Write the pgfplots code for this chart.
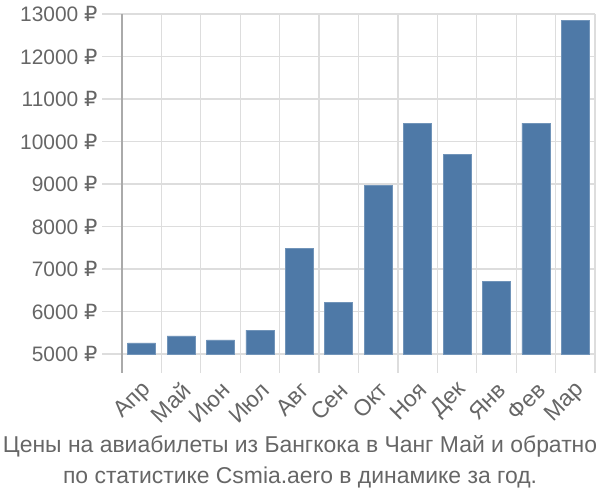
\documentclass[border=0pt]{standalone}
\usepackage{fontspec}
\setmainfont{Liberation Sans}
\newfontfamily\rubfont{DejaVu Sans}
\usepackage{pgfplots}
\pgfplotsset{compat=1.18}
\definecolor{barblue}{HTML}{4E79A7}
\definecolor{txtgray}{HTML}{666666}
\definecolor{gridgray}{HTML}{DDDDDD}
\definecolor{axgray}{HTML}{AAAAAA}
\begin{document}
\begin{tikzpicture}[x=1bp,y=1bp]
\useasboundingbox (0,0) rectangle (600,500);
\begin{axis}[
  at={(122bp,146bp)}, anchor=south west,
  width=473bp, height=340bp, scale only axis,
  xmin=-0.5, xmax=11.5, ymin=5000, ymax=13000,
  axis line style={draw=none},
  ytick={5000,6000,...,13000},
  scaled y ticks=false,
  yticklabel={\pgfmathprintnumber{\tick}\ {\rubfont ₽}},
  /pgf/number format/.cd, 1000 sep={}, assume math mode=true, /pgfplots/.cd,
  ymajorgrids, major grid style={gridgray, line width=1.2bp},
  minor grid style={gridgray, line width=1.2bp},
  xtick={0,...,11},
  xticklabels={Апр,Май,Июн,Июл,Авг,Сен,Окт,Ноя,Дек,Янв,Фев,Мар},
  minor xtick={-0.5,0.5,...,11.5},
  xminorgrids,
  tick align=outside, tick pos=left,
  major tick length=20bp, minor tick length=19bp,
  every tick/.style={gridgray, line width=1.2bp},
  x tick style={draw=none},
  minor x tick style={draw=gridgray, line width=1.2bp},
  yticklabel style={font=\fontsize{21}{24}\selectfont, text=txtgray, xshift=-1bp},
  xticklabel style={font=\fontsize{23}{26}\selectfont, text=txtgray, yshift=-10bp, xshift=8bp, rotate=45, anchor=east},
  clip=false,
]
\draw[axgray, line width=1.2bp] (rel axis cs:0,1) -- (rel axis cs:0,0) -- ([yshift=-19bp]rel axis cs:0,0);
\addplot[ybar, bar width=28bp, fill=barblue, draw=barblue!80!white, line width=0.6bp]
 coordinates {(0,5260) (1,5425) (2,5330) (3,5560) (4,7480) (5,6215) (6,8960) (7,10430) (8,9700) (9,6710) (10,10430) (11,12840)};
\end{axis}
\node[text=txtgray, font=\fontsize{23}{26}\selectfont] at (300,54) {Цены на авиабилеты из Бангкока в Чанг Май и обратно};
\node[text=txtgray, font=\fontsize{23}{26}\selectfont] at (300,23) {по статистике Csmia.aero в динамике за год.};
\end{tikzpicture}
\end{document}
